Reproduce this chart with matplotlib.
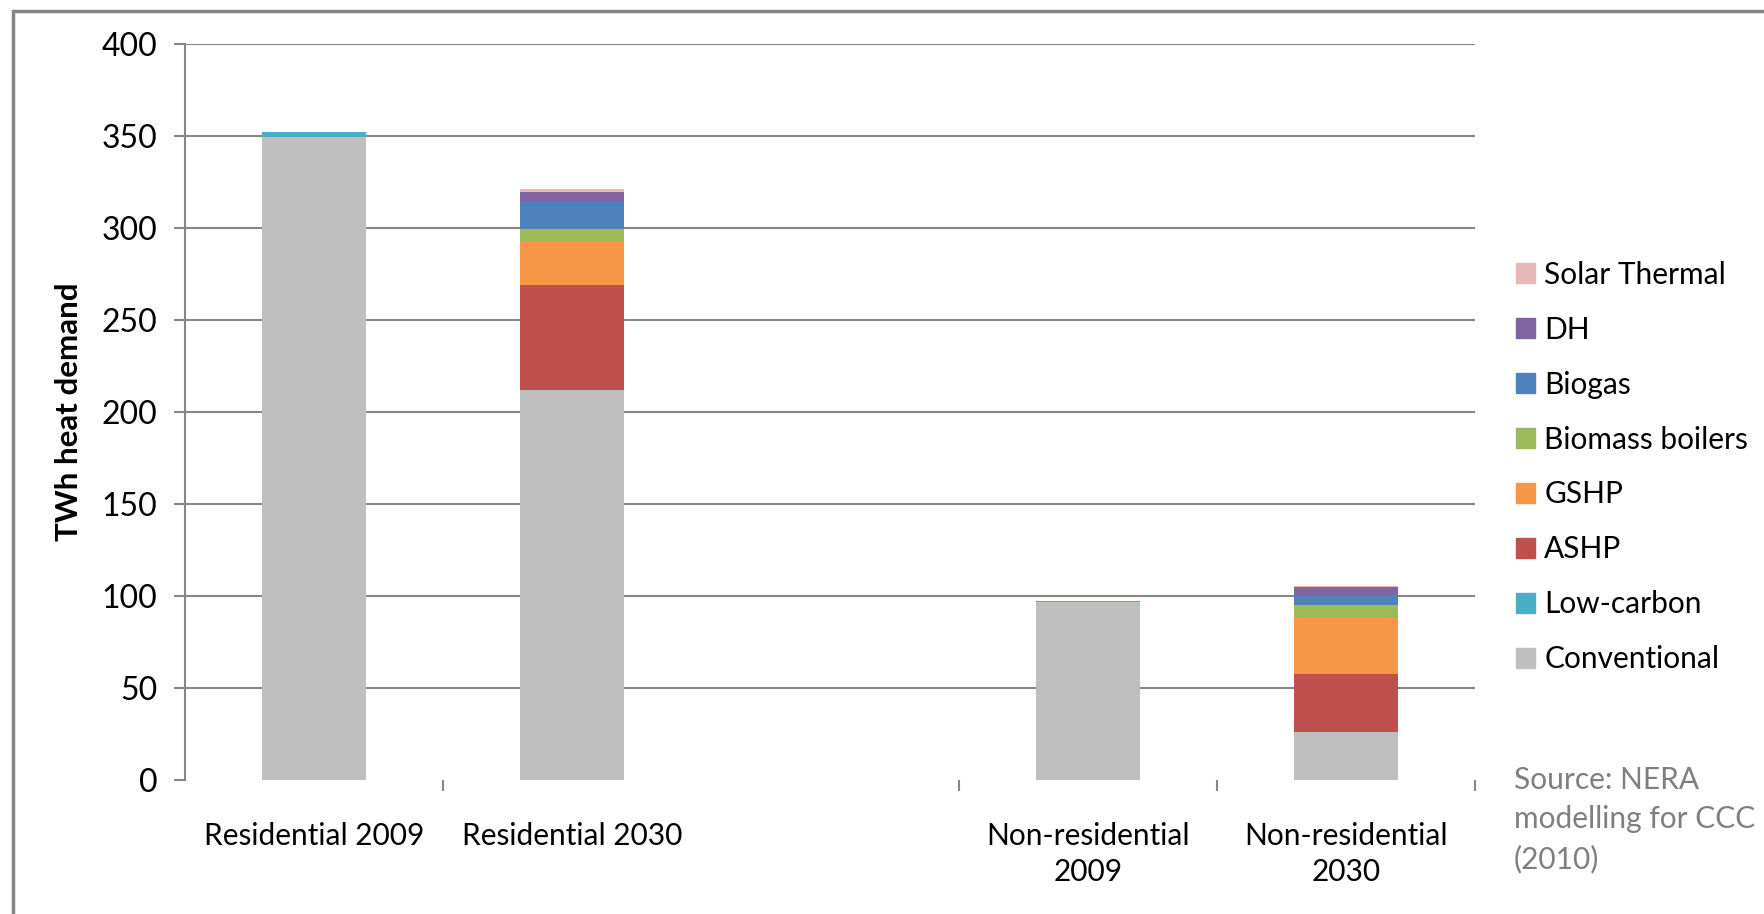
import matplotlib
matplotlib.use("Agg")
import matplotlib.pyplot as plt
from matplotlib.patches import Rectangle
from matplotlib.patches import Patch

categories = ["Residential 2009", "Residential 2030", "", "Non-residential\n2009", "Non-residential\n2030"]

# TWh heat demand per technology, one value per category (blank slot = 0)
conventional = [349.5, 212.0, 0, 96.5, 26.0]
low_carbon = [2.5, 0.0, 0, 1.0, 0.0]
ashp = [0.0, 57.0, 0, 0.0, 31.5]
gshp = [0.0, 23.4, 0, 0.0, 31.0]
biomass = [0.0, 7.1, 0, 0.0, 6.5]
biogas = [0.0, 15.2, 0, 0.0, 5.0]
dh = [0.0, 4.9, 0, 0.0, 4.7]
solar = [0.0, 1.6, 0, 0.0, 0.7]

series = [
    ("Conventional", conventional, "#BFBFBF"),
    ("Low-carbon", low_carbon, "#4BACC6"),
    ("ASHP", ashp, "#C0504D"),
    ("GSHP", gshp, "#F79646"),
    ("Biomass boilers", biomass, "#9BBB59"),
    ("Biogas", biogas, "#4F81BD"),
    ("DH", dh, "#8064A2"),
    ("Solar Thermal", solar, "#E6B9B8"),
]

plt.rcParams["font.family"] = ["Lato", "DejaVu Sans"]
grey = "#868686"

W, H = 1765, 914
fig = plt.figure(figsize=(W / 100, H / 100), dpi=100)
ax = fig.add_axes([185 / W, (H - 780) / H, (1475 - 185) / W, (780 - 44) / H])

x = list(range(len(categories)))
bottom = [0.0] * len(categories)
for name, vals, col in series:
    ax.bar(x, vals, width=0.4, bottom=bottom, color=col, label=name, zorder=3)
    bottom = [b + v for b, v in zip(bottom, vals)]

ax.set_xlim(-0.5, 4.5)
ax.set_ylim(0, 400)
ax.set_yticks(range(0, 401, 50))
ax.yaxis.grid(True, color=grey, linewidth=1.5, zorder=0)
ax.get_ygridlines()[0].set_visible(False)

for s in ["top", "right", "bottom"]:
    ax.spines[s].set_visible(False)
ax.spines["left"].set_color(grey)
ax.spines["left"].set_linewidth(1.5)

ax.tick_params(axis="y", direction="out", length=8, width=1.5, color=grey,
               labelsize=23, pad=12)

# category ticks sit between the slots, labels at the slot centres
ax.set_xticks([0.5, 2.5, 3.5, 4.5])
ax.set_xticklabels([])
ax.set_xticks(x, minor=True)
ax.set_xticklabels(categories, minor=True, fontsize=21.5, linespacing=1.36)
ax.tick_params(axis="x", which="major", direction="out", length=8, width=1.5, color=grey)
ax.tick_params(axis="x", which="minor", length=0, pad=30)
for lbl in ax.get_xticklabels(minor=True):
    lbl.set_verticalalignment("top")

ax.set_ylabel("TWh heat demand", fontsize=22.5, fontweight="bold", labelpad=13)

handles = [Patch(color=col, label=name) for name, _, col in series][::-1]
fig.legend(handles=handles, loc="upper left", bbox_to_anchor=(1504 / W, 1 - 249 / H),
           frameon=False, fontsize=21.5, handlelength=0.65, handleheight=0.65,
           handletextpad=0.3, labelspacing=0.9, borderaxespad=0)

fig.text(1514 / W, 1 - 766 / H, "Source: NERA\nmodelling for CCC\n(2010)",
         color="#7F7F7F", fontsize=21.5, va="top", ha="left", linespacing=1.48)

fig.patches.append(Rectangle((13 / W, -0.1), 1.2, 1.1 - 11 / H, transform=fig.transFigure,
                             fill=False, edgecolor=grey, linewidth=2.5))

fig.savefig("out.png", dpi=100)
